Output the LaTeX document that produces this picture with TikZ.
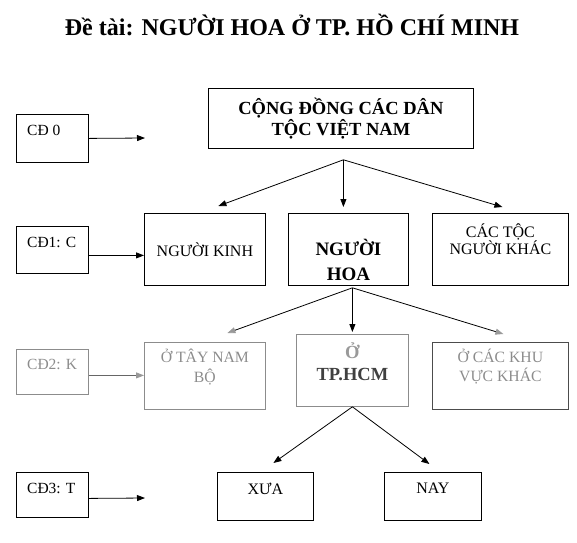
\documentclass[tikz,border=0pt]{standalone}
\usepackage{fontspec}
\setmainfont{Liberation Serif}
\usetikzlibrary{arrows.meta}

\tikzset{
  box/.style={draw, line width=0.8pt, anchor=north west, inner sep=0pt, align=center, font=\fontsize{16}{17}\selectfont},
  lbl/.style={inner sep=0pt, align=center},
  cdtxt/.style={inner sep=0pt, anchor=west, xshift=11pt, font=\fontsize{15.5}{17}\selectfont},
  arr/.style={line width=0.8pt, -{Triangle[length=8pt,width=6pt]}},
  garr/.style={line width=0.8pt, -{Triangle[length=8pt,width=6pt,color=black!40]}},
}

\begin{document}
\begin{tikzpicture}[x=1pt,y=-1pt]
\useasboundingbox (0,0) rectangle (577,542);
\node[font=\fontsize{24}{28}\selectfont\bfseries] (title) at (292,25) {Đề tài: NGƯỜI HOA Ở TP. HỒ CHÍ MINH};

% left column
\node[box, minimum width=72pt, minimum height=48pt, label={[cdtxt, yshift=8pt]west:{CĐ 0}}] (cd0) at (16,114) {};
\node[box, minimum width=72pt, minimum height=47pt, label={[cdtxt, yshift=7.5pt]west:{CĐ1: C}}] (cd1) at (16,226) {};
\node[box, draw=black!45, minimum width=72pt, minimum height=45pt, label={[cdtxt, yshift=7.5pt, text=black!45]west:{CĐ2: K}}] (cd2) at (16,349) {};
\node[box, minimum width=72pt, minimum height=45pt, label={[cdtxt, yshift=6.5pt]west:{CĐ3: T}}] (cd3) at (16,472) {};

% tree
\node[box, minimum width=265pt, minimum height=60pt, font=\fontsize{18.5}{21}\selectfont\bfseries] (ttop) at (208,88) {CỘNG ĐỒNG CÁC DÂN\\TỘC VIỆT NAM};
\node[box, minimum width=121pt, minimum height=72pt] (kinh) at (144,213) {NGƯỜI KINH};
\node[box, minimum width=120pt, minimum height=72pt, label={[lbl, yshift=-10.5pt, font=\fontsize{19}{25}\selectfont\bfseries]center:{NGƯỜI\\HOA}}] (hoa) at (288,213) {};
\node[box, minimum width=136pt, minimum height=72pt, label={[lbl, yshift=10.5pt, font=\fontsize{16}{17}\selectfont]center:{CÁC TỘC\\NGƯỜI KHÁC}}] (khac) at (432,213) {};

\node[box, draw=black!45, minimum width=121pt, minimum height=67pt, label={[lbl, yshift=8.5pt, text=black!45, font=\fontsize{15.7}{20}\selectfont]center:{Ở TÂY NAM\\BỘ}}] (taynam) at (144,342) {};
\node[box, draw=black!45, minimum width=112pt, minimum height=72pt, label={[lbl, yshift=9pt, font=\fontsize{18.5}{22}\selectfont\bfseries]center:{\textcolor{black!40}{Ở}\\\textcolor{black!75}{TP.HCM}}}] (hcm) at (296,334) {};
\node[box, draw=black!70, minimum width=136pt, minimum height=67pt, label={[lbl, yshift=9pt, text=black!45, font=\fontsize{15.7}{19}\selectfont]center:{Ở CÁC KHU\\VỰC KHÁC}}] (khu) at (432,342) {};

\node[box, minimum width=96pt, minimum height=48pt, label={[lbl, yshift=8pt, font=\fontsize{16}{17}\selectfont]center:{XƯA}}] (xua) at (217,472) {};
\node[box, minimum width=97pt, minimum height=48pt, label={[lbl, yshift=8pt, font=\fontsize{16}{17}\selectfont]center:{NAY}}] (nay) at (384,472) {};

% arrows from the left column
\coordinate (e0) at (145,138);
\draw[arr] (cd0.east) -- (e0);
\coordinate (c1) at ([yshift=-5.5pt]cd1.east);
\draw[arr] (c1) -- (c1 -| kinh.west);
\coordinate (c2) at ([yshift=-3.5pt]cd2.east);
\draw[garr, draw=black!60] (c2) -- (c2 -| taynam.west);
\coordinate (c3) at ([yshift=-3.5pt]cd3.east);
\coordinate (e3) at (145,498);
\draw[arr] (c3) -- (e3);

% branches
\coordinate (f1) at ([xshift=2.5pt,yshift=-11pt]ttop.south);
\draw[arr] (f1) -- ([xshift=13.5pt,yshift=7pt]kinh.north);
\draw[arr] (f1) -- ([xshift=-5pt,yshift=6pt]hoa.north);
\draw[arr] (f1) -- ([xshift=2pt,yshift=6pt]khac.north);
\coordinate (f2) at ([xshift=4pt,yshift=-2pt]hoa.south);
\draw[garr] (f2) -- ([xshift=22.5pt,yshift=9pt]taynam.north);
\draw[arr] (f2) -- ([yshift=2pt]hcm.north);
\draw[garr] (f2) -- ([xshift=3pt,yshift=8pt]khu.north);
\coordinate (f3) at (hcm.south);
\draw[arr] (f3) -- ([xshift=8pt,yshift=9pt]xua.north);
\draw[arr] (f3) -- ([xshift=-3.5pt,yshift=8pt]nay.north);
\end{tikzpicture}
\end{document}
